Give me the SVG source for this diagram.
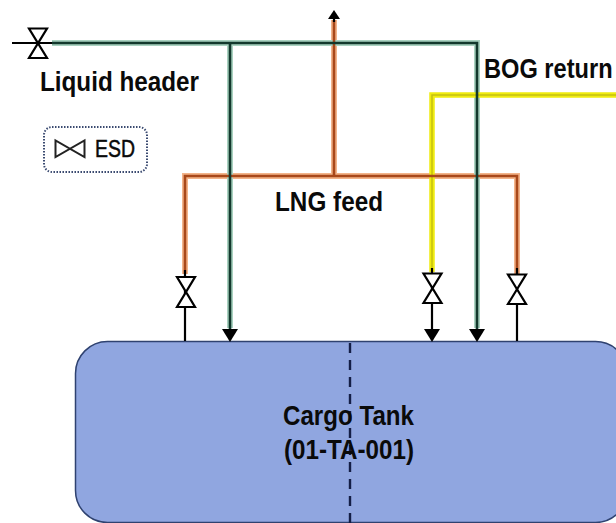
<svg xmlns="http://www.w3.org/2000/svg" width="616" height="523" viewBox="0 0 616 523">
<style>
text{font-family:"Liberation Sans",Arial,sans-serif;font-weight:700;fill:#0a0a0a}
.l{fill:none;stroke-linejoin:miter}
.gh{stroke:#a9d2c0;stroke-width:6}.g{stroke:#12382c;stroke-width:2.6}
.oh{stroke:#f3b48a;stroke-width:6}.o{stroke:#a8481a;stroke-width:2.6}
.y{stroke:#f0ec10;stroke-width:5.500}.yi{stroke:#c4c010;stroke-width:1.500}
.k{stroke:#000;stroke-width:2.200;fill:none}
.v{fill:#fff;stroke:#000;stroke-width:2.200;stroke-linejoin:miter}
</style>
<g id="tank">
<rect x="75.500" y="341.500" width="552" height="181" rx="32" ry="32" fill="#90a6e0" stroke="#2f4270" stroke-width="1.500"/>
<line x1="350" y1="343" x2="350" y2="523" stroke="#141e46" stroke-width="2.400" stroke-dasharray="10 7"/>
</g>
<g id="connectors">
<path class="l oh" d="M185 274V176H517V274"/>
<path class="l oh" d="M334 176V20"/>
<path class="l gh" d="M52 43H477V328"/>
<path class="l gh" d="M230 43V328"/>
<path class="l y" d="M616 95H432V272"/>
<path class="l yi" d="M616 95H432V272"/>
<path class="l o" d="M185 274V176H517V274"/>
<path class="l o" d="M334 176V20"/>
<path class="l g" d="M52 43H477V330"/>
<path class="l g" d="M230 43V330"/>
<path class="k" d="M12 43H52"/>
<path class="k" d="M334 22V14"/>
<path fill="#000" d="M334 10L340 19H328Z"/>
<path class="k" d="M185 270V341"/>
<path class="k" d="M517 268V341"/>
<path class="k" d="M432 268V330"/>
<path fill="#000" d="M222 329H238L230 342Z"/>
<path fill="#000" d="M424 329H440L432 342Z"/>
<path fill="#000" d="M469 329H485L477 342Z"/>
</g>
<g id="valve-header"><path class="v" d="M29 28.500H47L29 58H47Z"/></g>
<g id="valve-left"><path class="v" d="M177 277H195L177 307H195Z"/></g>
<g id="valve-bog"><path class="v" d="M423.500 273.500H441.500L423.500 303H441.500Z"/></g>
<g id="valve-right"><path class="v" d="M508 274.500H526L508 304H526Z"/></g>
<g id="esd">
<rect x="44" y="127" width="103" height="45" rx="8" fill="#fff" stroke="#3a4a70" stroke-width="2" stroke-dasharray="1.500 1.500"/>
<path d="M55.500 140.500V157L84.500 140.500V157Z" fill="#fff" stroke="#222" stroke-width="2"/>
<text x="95" y="157" font-size="23" textLength="40" lengthAdjust="spacingAndGlyphs" style="font-weight:400;stroke:#0a0a0a;stroke-width:.5">ESD</text>
</g>
<g id="labels">
<text x="40" y="91" font-size="27" textLength="159" lengthAdjust="spacingAndGlyphs">Liquid header</text>
<text transform="translate(484 78) scale(.875 1)" font-size="27">BOG return</text>
<text x="275" y="211" font-size="27" textLength="108" lengthAdjust="spacingAndGlyphs">LNG feed</text>
<text x="283" y="425" font-size="27" textLength="131" lengthAdjust="spacingAndGlyphs">Cargo Tank</text>
<text x="284" y="459" font-size="27" textLength="130" lengthAdjust="spacingAndGlyphs">(01-TA-001)</text>
</g>
</svg>
